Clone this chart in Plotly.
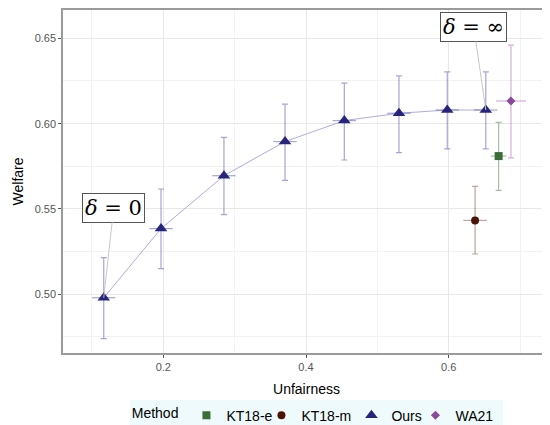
import plotly.graph_objects as go

# Ours
ours_x = [0.1165, 0.1968, 0.285, 0.3706, 0.4537, 0.5303, 0.598, 0.652]
ours_y = [0.498, 0.5385, 0.5695, 0.5895, 0.6018, 0.6061, 0.608, 0.608]
ours_y_lo = [0.474, 0.515, 0.5467, 0.5668, 0.5787, 0.583, 0.5852, 0.5852]
ours_y_hi = [0.5215, 0.5617, 0.592, 0.6115, 0.6237, 0.628, 0.6303, 0.6303]
ours_x_err = [0.0164, 0.0164, 0.0164, 0.0164, 0.0164, 0.0164, 0.0164, 0.0164]

# Baselines
methods = ["KT18-e", "KT18-m", "WA21"]
base_x = [0.670, 0.637, 0.6873]
base_y = [0.581, 0.5433, 0.6133]
base_y_lo = [0.5609, 0.5236, 0.580]
base_y_hi = [0.6008, 0.5633, 0.646]
base_x_err = [0.011, 0.0164, 0.021]
base_symbols = ["square", "circle", "diamond"]
base_sizes = [8, 8, 7]
base_colors = ["#3b6e36", "#4a1407", "#8b4a99"]
base_err_colors = ["rgba(59,110,54,0.45)", "rgba(110,50,35,0.45)", "rgba(170,100,185,0.5)"]
base_legendwidth = [30, 45, 42]

ours_color = "#27247c"
ours_err_color = "rgba(60,55,165,0.45)"
line_color = "rgba(120,115,205,0.6)"

fig = go.Figure()


def add_base(i):
    fig.add_trace(go.Scatter(
        x=[base_x[i]], y=[base_y[i]], mode="markers", name=methods[i],
        legendwidth=base_legendwidth[i],
        marker=dict(symbol=base_symbols[i], size=base_sizes[i], color=base_colors[i]),
        error_y=dict(type="data", symmetric=False,
                     array=[base_y_hi[i] - base_y[i]], arrayminus=[base_y[i] - base_y_lo[i]],
                     color=base_err_colors[i], thickness=1.2, width=3),
        error_x=dict(type="data", array=[base_x_err[i]], color=base_err_colors[i],
                     thickness=1.2, width=0),
    ))


# legend order: KT18-e, KT18-m, Ours, WA21
add_base(0)
add_base(1)

fig.add_trace(go.Scatter(
    x=ours_x, y=ours_y, mode="lines", showlegend=False,
    line=dict(color=line_color, width=1), hoverinfo="skip",
))
fig.add_trace(go.Scatter(
    x=ours_x, y=ours_y, mode="markers", name="Ours", legendwidth=19,
    marker=dict(symbol="triangle-up", size=11, color=ours_color),
    error_y=dict(type="data", symmetric=False,
                 array=[h - y for h, y in zip(ours_y_hi, ours_y)],
                 arrayminus=[y - l for y, l in zip(ours_y, ours_y_lo)],
                 color=ours_err_color, thickness=1.2, width=3),
    error_x=dict(type="data", array=ours_x_err, color=ours_err_color, thickness=1.2, width=0),
))

add_base(2)

ann_font = dict(family="DejaVu Serif", size=21, color="black")
fig.add_annotation(x=ours_x[0], y=ours_y[0], text="<i>δ</i> = 0", font=ann_font,
                   showarrow=True, arrowhead=0, arrowcolor="#c8c8c8", arrowwidth=1,
                   ax=10, ay=-90, bordercolor="#555555", borderwidth=1, borderpad=2,
                   bgcolor="white")
fig.add_annotation(x=ours_x[-1], y=ours_y[-1], text="<i>δ</i> = ∞", font=ann_font,
                   showarrow=True, arrowhead=0, arrowcolor="#c8c8c8", arrowwidth=1,
                   ax=-12, ay=-83, bordercolor="#555555", borderwidth=1, borderpad=2,
                   bgcolor="white")

axis_common = dict(
    showline=True, linecolor="#9a9a9a", linewidth=1.5, mirror=True,
    gridcolor="#e8e8e8", gridwidth=1.2,
    ticks="outside", ticklen=3, tickcolor="#555555",
    tickfont=dict(size=11, color="#555555"),
    zeroline=False, automargin=False,
)

fig.update_xaxes(range=[0.0594, 0.742], tickvals=[0.2, 0.4, 0.6], ticktext=["0.2", "0.4", "0.6"],
                 title=dict(text="Unfairness", font=dict(size=14, color="black"), standoff=12),
                 minor=dict(showgrid=True, gridcolor="#f2f2f2", gridwidth=1,
                            tickvals=[0.1, 0.3, 0.5, 0.7]),
                 **axis_common)
fig.update_yaxes(range=[0.4656, 0.6666], tickvals=[0.50, 0.55, 0.60, 0.65],
                 ticktext=["0.50", "0.55", "0.60", "0.65"],
                 title=dict(text="Welfare", font=dict(size=14, color="black"), standoff=8),
                 minor=dict(showgrid=True, gridcolor="#f2f2f2", gridwidth=1,
                            tickvals=[0.475, 0.525, 0.575, 0.625]),
                 **axis_common)

# the page body adds an 8px offset, so the figure is 8px smaller than the window
fig.update_layout(
    width=542, height=417,
    margin=dict(l=55, r=0, t=2, b=72, autoexpand=False),
    plot_bgcolor="white", paper_bgcolor="white",
    font=dict(family="Liberation Sans", color="black"),
    showlegend=True,
    legend=dict(orientation="h", x=0.52, xanchor="center", y=-0.136, yanchor="top",
                bgcolor="#eefafc", font=dict(size=14),
                title=dict(text="Method", font=dict(size=14)),
                itemwidth=30, tracegroupgap=0),
)

fig.write_html("out.html")
